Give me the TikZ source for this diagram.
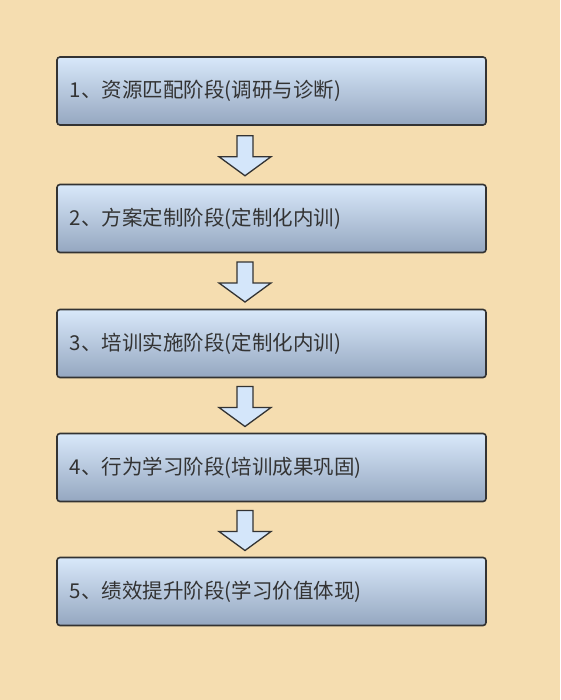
\documentclass[tikz,border=0pt]{standalone}
\usepackage{fontspec}
\newfontfamily\cjk{Noto Sans CJK SC}
\definecolor{bg}{HTML}{F5DDB0}
\definecolor{boxtop}{HTML}{D8E8FA}
\definecolor{boxbot}{HTML}{95A7C0}
\definecolor{edge}{HTML}{333333}
\definecolor{txt}{HTML}{333333}
\definecolor{arrfill}{HTML}{D4E6FA}
\begin{document}
\begin{tikzpicture}[x=1pt,y=-1pt,
  stage/.style={draw=edge, line width=1.6pt, rounded corners=3pt, top color=boxtop, bottom color=boxbot, minimum width=429pt, minimum height=68pt, inner sep=0pt},
  lbl/.style={text=txt, font=\cjk\fontsize{20.5}{24}\selectfont, anchor=west},
  downarrow/.style={draw=edge, line width=1.3pt, fill=arrfill, line join=miter}]
\fill[bg] (0,0) rectangle (560,700);
\useasboundingbox (0,0) rectangle (560,700);
\node[stage] (b1) at (271.5,91) {};
\node[stage] (b2) at (271.5,218.5) {};
\node[stage] (b3) at (271.5,343.5) {};
\node[stage] (b4) at (271.5,467.5) {};
\node[stage] (b5) at (271.5,591.5) {};
\node[lbl] (t1) at ([xshift=10pt]b1.west) {1、资源匹配阶段(调研与诊断)};
\node[lbl] (t2) at ([xshift=10pt]b2.west) {2、方案定制阶段(定制化内训)};
\node[lbl] (t3) at ([xshift=10pt]b3.west) {3、培训实施阶段(定制化内训)};
\node[lbl] (t4) at ([xshift=10pt]b4.west) {4、行为学习阶段(培训成果巩固)};
\node[lbl] (t5) at ([xshift=10pt]b5.west) {5、绩效提升阶段(学习价值体现)};
\foreach \a/\b in {b1/b2,b2/b3,b3/b4,b4/b5}{
  \path ([xshift=-26.5pt]\a.south) -- ([xshift=-26.5pt]\b.north) coordinate[pos=0.5] (m);
  \draw[downarrow] ([shift={(-8,-19)}]m) -- ([shift={(8,-19)}]m) -- ([shift={(8,2)}]m) -- ([shift={(26,2)}]m) -- ([shift={(0,21)}]m) -- ([shift={(-26,2)}]m) -- ([shift={(-8,2)}]m) -- cycle;
}
\end{tikzpicture}
\end{document}
